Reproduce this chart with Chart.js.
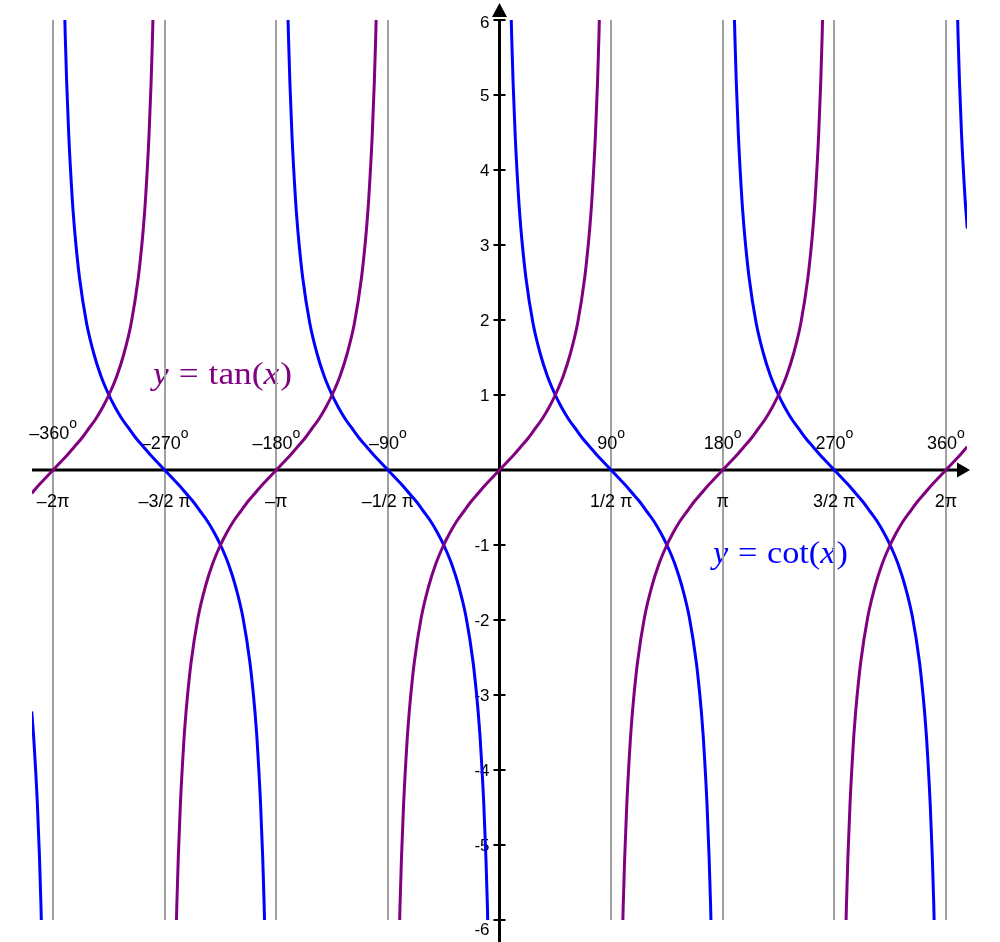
<!DOCTYPE html>
<html>
<head>
<meta charset="utf-8">
<script src="https://cdn.jsdelivr.net/npm/chart.js@4.4.0/dist/chart.umd.min.js"></script>
<style>
html,body{margin:0;padding:0;background:#fff;}
</style>
</head>
<body>
<canvas id="graphique" width="1000" height="942"></canvas>
<script>
// offsets (rad) from the centre of a branch
const offsets = [-1.42, -1.40, -1.38, -1.35, -1.30, -1.28, -1.27, -1.25, -1.20, -1.10, -1.00, -0.90, -0.80, -0.70, -0.60, -0.50, -0.40, -0.30, -0.20, -0.10, 0,
                 0.10, 0.20, 0.30, 0.40, 0.50, 0.60, 0.70, 0.80, 0.90, 1.00, 1.10, 1.20, 1.25, 1.27, 1.28, 1.30, 1.35, 1.38, 1.40, 1.42]
const tanValues = [-6.58, -5.80, -5.18, -4.46, -3.60, -3.34, -3.22, -3.01, -2.57, -1.96, -1.56, -1.26, -1.03, -0.84, -0.68, -0.55, -0.42, -0.31, -0.20, -0.10, 0,
                   0.10, 0.20, 0.31, 0.42, 0.55, 0.68, 0.84, 1.03, 1.26, 1.56, 1.96, 2.57, 3.01, 3.22, 3.34, 3.60, 4.46, 5.18, 5.80, 6.58]
const cotValues = [6.58, 5.80, 5.18, 4.46, 3.60, 3.34, 3.22, 3.01, 2.57, 1.96, 1.56, 1.26, 1.03, 0.84, 0.68, 0.55, 0.42, 0.31, 0.20, 0.10, 0,
                   -0.10, -0.20, -0.31, -0.42, -0.55, -0.68, -0.84, -1.03, -1.26, -1.56, -1.96, -2.57, -3.01, -3.22, -3.34, -3.60, -4.46, -5.18, -5.80, -6.58]

// branch centres in multiples of pi/2
const tanCentres = [-4, -2, 0, 2, 4]
const cotCentres = [-5, -3, -1, 1, 3, 5]

// x ticks (multiples of pi/2) and their two label rows
const halfPiSteps = [-4, -3, -2, -1, 1, 2, 3, 4]
const degreeLabels = ['–360', '–270', '–180', '–90', '90', '180', '270', '360']
const radianLabels = ['–2π', '–3/2 π', '–π', '–1/2 π', '1/2 π', 'π', '3/2 π', '2π']

const xMin = -6.58, xMax = 6.58
const yMin = -6, yMax = 6

const PURPLE = '#800080'
const BLUE = '#0000ff'
const SANS = '"Liberation Sans", Arial, sans-serif'
const SERIF = '"Liberation Serif", "Times New Roman", serif'

function branch(centre, values){
    return offsets.map((t, i) => ({x: centre * Math.PI / 2 + t, y: values[i]}))
}

function curve(centre, values, color){
    return {
        data: branch(centre, values),
        showLine: true,
        borderColor: color,
        borderWidth: 3,
        pointRadius: 0,
        fill: false,
        clip: 0,
        cubicInterpolationMode: 'monotone'
    }
}

// "y = f(x)" in a math-like serif, stretched to the given width
function drawMath(ctx, fname, left, baseline, width, color){
    const parts = [['y', true, 9], ['=', false, 9], [fname + '(', false, 0], ['x', true, 1], [')', false, 0]]
    const font = (it) => (it ? 'italic ' : '') + '32px ' + SERIF
    let total = 0
    for (const [txt, it, gap] of parts) {
        ctx.font = font(it)
        total += ctx.measureText(txt).width + gap
    }
    total -= parts[parts.length - 1][2]
    ctx.save()
    ctx.translate(left, baseline)
    ctx.scale(width / total, 1)
    ctx.fillStyle = color
    ctx.textAlign = 'left'
    ctx.textBaseline = 'alphabetic'
    let cx = 0
    for (const [txt, it, gap] of parts) {
        ctx.font = font(it)
        ctx.fillText(txt, cx, 0)
        cx += ctx.measureText(txt).width + gap
    }
    ctx.restore()
}

const axesPlugin = {
    id: 'axes',
    beforeDraw(chart){
        const {ctx, scales: {x, y}} = chart
        drawMath(ctx, 'tan', x.getPixelForValue(-4.876), y.getPixelForValue(1.147), 139, PURPLE)
        drawMath(ctx, 'cot', x.getPixelForValue(3.005), y.getPixelForValue(-1.24), 135, BLUE)
    },
    beforeDatasetsDraw(chart){
        const {ctx, chartArea, scales: {x, y}} = chart
        const x0 = x.getPixelForValue(0)
        const y0 = y.getPixelForValue(0)
        ctx.save()
        ctx.strokeStyle = '#000'
        ctx.fillStyle = '#000'

        // x axis + arrow
        ctx.lineWidth = 3
        ctx.beginPath()
        ctx.moveTo(chartArea.left, y0)
        ctx.lineTo(chartArea.right - 2, y0)
        ctx.stroke()
        ctx.beginPath()
        ctx.moveTo(chartArea.right + 3, y0)
        ctx.lineTo(chartArea.right - 10, y0 - 7.5)
        ctx.lineTo(chartArea.right - 10, y0 + 7.5)
        ctx.closePath()
        ctx.fill()

        // y axis + arrow
        ctx.beginPath()
        ctx.moveTo(x0, chart.height)
        ctx.lineTo(x0, chartArea.top - 1)
        ctx.stroke()
        ctx.beginPath()
        ctx.moveTo(x0, chartArea.top - 17)
        ctx.lineTo(x0 - 7.5, chartArea.top - 3)
        ctx.lineTo(x0 + 7.5, chartArea.top - 3)
        ctx.closePath()
        ctx.fill()

        // y ticks and labels
        ctx.lineWidth = 2
        ctx.font = '17px ' + SANS
        ctx.textAlign = 'right'
        ctx.textBaseline = 'middle'
        for (const t of y.ticks) {
            if (t.value === 0) continue
            const py = y.getPixelForValue(t.value)
            ctx.beginPath()
            ctx.moveTo(x0 - 6, py)
            ctx.lineTo(x0 + 6, py)
            ctx.stroke()
            let dy = 1
            if (t.value === yMax) dy = 3
            if (t.value === yMin) dy = 10
            ctx.fillText(String(t.value), x0 - 10, py + dy)
        }

        // x labels: degrees above, radians below
        halfPiSteps.forEach((k, i) => {
            const px = x.getPixelForValue(k * Math.PI / 2)
            const base = i === 0 ? y0 - 31 : y0 - 21
            ctx.font = '18px ' + SANS
            const w1 = ctx.measureText(degreeLabels[i]).width
            ctx.font = '14px ' + SANS
            const w2 = ctx.measureText('o').width
            const left = px - (w1 + w2) / 2
            ctx.textAlign = 'left'
            ctx.textBaseline = 'alphabetic'
            ctx.font = '18px ' + SANS
            ctx.fillText(degreeLabels[i], left, base)
            ctx.font = '14px ' + SANS
            ctx.fillText('o', left + w1, base - 11)

            ctx.font = '18px ' + SANS
            ctx.textAlign = 'center'
            ctx.fillText(radianLabels[i], px, y0 + 37)
        })
        ctx.restore()
    }
}

const datasets = [
    ...tanCentres.map(c => curve(c, tanValues, PURPLE)),
    ...cotCentres.map(c => curve(c, cotValues, BLUE))
]

const chart = new Chart(document.getElementById('graphique'), {
    type: 'scatter',
    data: {datasets: datasets},
    options: {
        responsive: false,
        animation: false,
        devicePixelRatio: 1,
        layout: {padding: {left: 32, right: 33, top: 20, bottom: 22}},
        plugins: {legend: {display: false}, tooltip: {enabled: false}},
        scales: {
            x: {
                type: 'linear',
                min: xMin,
                max: xMax,
                position: {y: 0},
                afterBuildTicks: (scale) => {
                    scale.ticks = halfPiSteps.map(k => ({value: k * Math.PI / 2}))
                },
                grid: {color: '#a0a0a0', lineWidth: 2, drawTicks: false},
                border: {display: false},
                ticks: {display: false}
            },
            y: {
                type: 'linear',
                min: yMin,
                max: yMax,
                position: {x: 0},
                ticks: {display: false, stepSize: 1},
                grid: {display: false},
                border: {display: false}
            }
        }
    },
    plugins: [axesPlugin]
})
</script>
</body>
</html>
